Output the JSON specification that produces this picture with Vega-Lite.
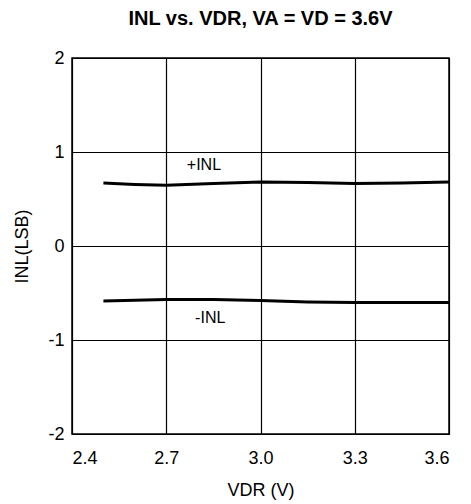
{
  "$schema": "https://vega.github.io/schema/vega-lite/v6.json",
  "width": 377,
  "height": 376,
  "autosize": "none",
  "padding": {"left": 72, "top": 58, "right": 22, "bottom": 70},
  "background": "white",
  "title": {
    "text": "INL vs. VDR, VA = VD = 3.6V",
    "font": "Liberation Sans",
    "fontSize": 20,
    "fontWeight": "bold",
    "color": "black",
    "anchor": "middle",
    "offset": 20
  },
  "config": {
    "view": {"stroke": "black", "strokeWidth": 1.5},
    "font": "Liberation Sans",
    "axis": {
      "grid": true,
      "gridColor": "black",
      "gridOpacity": 1,
      "gridWidth": 1.2,
      "domainColor": "black",
      "ticks": false,
      "labelFont": "Liberation Sans",
      "labelFontSize": 18,
      "labelColor": "black",
      "titleFont": "Liberation Sans",
      "titleFontSize": 18,
      "titleFontWeight": "normal",
      "titleColor": "black"
    }
  },
  "datasets": {
    "curves": [
      {"v": 2.5, "inl": 0.67, "series": "+INL"},
      {"v": 2.6, "inl": 0.655, "series": "+INL"},
      {"v": 2.7, "inl": 0.645, "series": "+INL"},
      {"v": 2.85, "inl": 0.665, "series": "+INL"},
      {"v": 3.0, "inl": 0.68, "series": "+INL"},
      {"v": 3.15, "inl": 0.675, "series": "+INL"},
      {"v": 3.3, "inl": 0.665, "series": "+INL"},
      {"v": 3.45, "inl": 0.67, "series": "+INL"},
      {"v": 3.6, "inl": 0.68, "series": "+INL"},
      {"v": 2.5, "inl": -0.585, "series": "-INL"},
      {"v": 2.7, "inl": -0.57, "series": "-INL"},
      {"v": 2.85, "inl": -0.57, "series": "-INL"},
      {"v": 3.0, "inl": -0.58, "series": "-INL"},
      {"v": 3.15, "inl": -0.595, "series": "-INL"},
      {"v": 3.3, "inl": -0.6, "series": "-INL"},
      {"v": 3.45, "inl": -0.6, "series": "-INL"},
      {"v": 3.6, "inl": -0.6, "series": "-INL"}
    ],
    "labels": [
      {"v": 2.82, "inl": 0.86, "label": "+INL"},
      {"v": 2.84, "inl": -0.77, "label": "-INL"}
    ]
  },
  "layer": [
    {
      "data": {"name": "curves"},
      "mark": {"type": "line", "color": "black", "strokeWidth": 3},
      "encoding": {
        "x": {
          "field": "v",
          "type": "quantitative",
          "scale": {"domain": [2.4, 3.6], "nice": false, "zero": false},
          "axis": {"values": [2.4, 2.7, 3.0, 3.3, 3.6], "format": ".1f", "labelPadding": 15, "title": "VDR (V)", "titlePadding": 14}
        },
        "y": {
          "field": "inl",
          "type": "quantitative",
          "scale": {"domain": [-2, 2], "nice": false},
          "axis": {"values": [-2, -1, 0, 1, 2], "labelExpr": "datum.value + ''", "labelPadding": 8, "title": "INL(LSB)", "titlePadding": 16}
        },
        "detail": {"field": "series"}
      }
    },
    {
      "data": {"name": "labels"},
      "mark": {"type": "text", "font": "Liberation Sans", "fontSize": 16, "color": "black"},
      "encoding": {
        "x": {"field": "v", "type": "quantitative"},
        "y": {"field": "inl", "type": "quantitative"},
        "text": {"field": "label"}
      }
    }
  ]
}
